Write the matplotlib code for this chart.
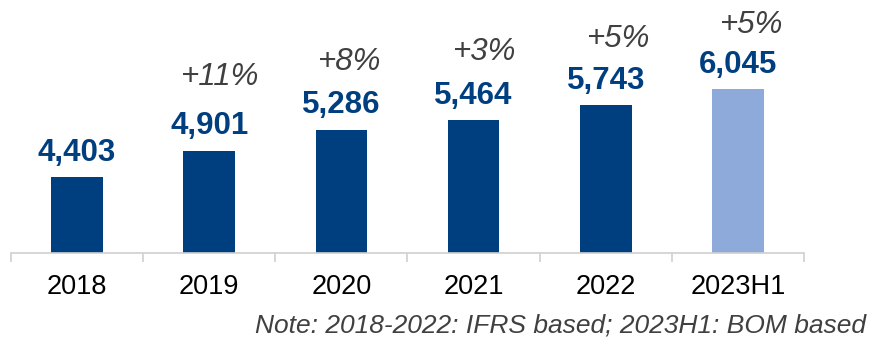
import matplotlib
matplotlib.use('Agg')
import matplotlib.pyplot as plt
import numpy as np

# data
years = ['2018', '2019', '2020', '2021', '2022', '2023H1']
values = [4403, 4901, 5286, 5464, 5743, 6045]
growth = ['', '+11%', '+8%', '+3%', '+5%', '+5%']

DARK = '#003f7f'
LIGHT = '#8eaadb'
GREY = '#404040'

# hand-placed offsets (points) of the growth labels from each bar top
growth_dx = [0, 7.5, 5, 7.5, 8.5, 9.5]
growth_dy = [0, 47.5, 43.2, 43.7, 42.2, 40.8]

plt.rcParams['font.family'] = ['Liberation Sans', 'DejaVu Sans']

fig = plt.figure(figsize=(8.73, 3.39), dpi=100)
ax = fig.add_axes([11 / 873, 86.3 / 339, 793 / 873, 252.7 / 339])

x = np.arange(len(years))
colors = [DARK] * (len(years) - 1) + [LIGHT]
bars = ax.bar(x, values, width=0.39, color=colors, zorder=2)

ax.set_xlim(-0.5, len(years) - 0.5)
ax.set_ylim(3000, 7706)

# value labels and growth rates above bars
for xi, v, g, dx, dy in zip(x, values, growth, growth_dx, growth_dy):
    ax.annotate(f'{v:,}', (xi, v), xytext=(0, 12), textcoords='offset points',
                ha='center', va='baseline', fontsize=22.5, fontweight='bold', color=DARK)
    if g:
        ax.annotate(g, (xi, v), xytext=(dx, dy), textcoords='offset points',
                    ha='center', va='baseline', fontsize=22.5, fontstyle='italic', color=GREY)

# axis styling
for s in ['top', 'right', 'left']:
    ax.spines[s].set_visible(False)
ax.spines['bottom'].set_color('#d0d0d0')
ax.spines['bottom'].set_linewidth(1.2)
ax.set_yticks([])
ax.set_xticks(x)
ax.set_xticklabels(years, fontsize=19.5, color='black')
ax.set_xticks(np.arange(-0.5, len(years)), minor=True)
ax.tick_params(axis='x', which='major', length=0, pad=15)
ax.tick_params(axis='x', which='minor', length=6.5, width=1.2, color='#d0d0d0')

fig.text(866 / 873, 6 / 339, 'Note: 2018-2022: IFRS based; 2023H1: BOM based',
         ha='right', va='baseline', fontsize=19, fontstyle='italic', color=GREY)

fig.savefig('out.png', dpi=100)
